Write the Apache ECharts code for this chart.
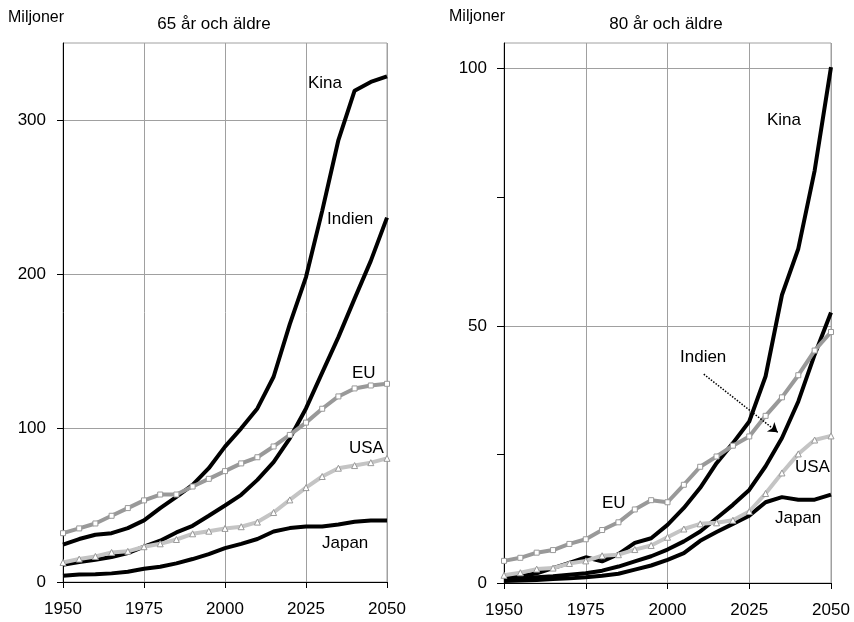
<!DOCTYPE html>
<html>
<head>
<meta charset="utf-8">
<script src="https://cdn.jsdelivr.net/npm/echarts@6/dist/echarts.min.js"></script>
<style>
html,body{margin:0;padding:0;background:#fff;}
#chart{width:854px;height:622px;}
</style>
</head>
<body>
<div id="chart"></div>
<script>
var years = [1950,1955,1960,1965,1970,1975,1980,1985,1990,1995,2000,2005,2010,2015,2020,2025,2030,2035,2040,2045,2050];
var xTickLabels = ['1950','1975','2000','2025','2050'];
var yTicks65 = [0,100,200,300];
var yTicks80 = [0,25,50,75,100];
var yLabels80 = ['0','50','100'];

// 65 år och äldre (miljoner)
var kina65   = [24.2,27.9,30.7,31.7,35,40,48,55.3,63,73.9,87.9,99.8,112.7,133.3,167.5,198,241,287,319,324.7,328.4];
var indien65 = [11.2,13,14.5,16.2,18.8,22.9,26.8,32.2,36.5,43,49.7,56.6,66.3,77.8,93.3,112.7,136,159,184,208.5,236.6];
var eu65     = [31.7,34.8,38,43,48,53,56.8,56.8,62,67,72,77,81,88,95.5,103.5,112.5,120.5,125.7,127.6,128.7];
var usa65    = [12.7,14.9,16.6,19.2,19.9,22.9,24.8,27.6,31.3,33,34.8,35.9,38.9,45.1,53.3,61.3,68.5,73.9,75.6,77.5,80.3];
var japan65  = [4.1,4.8,5,5.6,6.7,8.6,9.9,12.1,14.9,18.1,22,24.8,27.9,32.8,35,36,36,37.4,39.1,40,40];

// 80 år och äldre (miljoner)
var kina80   = [1.0,1.3,1.9,2.9,3.9,5.0,4.2,5.6,7.8,8.7,11.3,14.6,18.5,23.3,27.2,31.4,40.2,56,65,80.2,100.3];
var indien80 = [0.6,0.8,1.1,1.3,1.6,1.9,2.4,3.2,4.2,5.2,6.5,8.1,10.0,12.6,15.2,18.1,22.7,28.2,35.3,44.4,52.6];
var eu80     = [4.3,4.9,5.9,6.4,7.6,8.5,10.3,11.8,14.3,16.1,15.7,19.1,22.6,24.6,26.7,28.5,32.5,36.1,40.4,45.2,48.8];
var usa80    = [1.5,2.0,2.7,2.9,3.8,4.3,5.3,5.5,6.5,7.3,8.9,10.5,11.5,11.7,12.2,13.9,17.4,21.4,25.1,27.8,28.6];
var japan80  = [0.4,0.5,0.6,0.8,0.9,1.1,1.4,1.8,2.6,3.4,4.5,5.8,8.2,9.9,11.5,13.1,15.7,16.7,16.2,16.2,17.2];

// Indien arrow (data coordinates, right panel)
var arrowFrom = [2011.1, 40.6];
var arrowTo = [2033.7, 29.3];

function pairs(arr){ return years.map(function(y,i){ return [y, arr[i]]; }); }

var FONT = 'Liberation Sans, Arial, sans-serif';
var GRIDC = '#a0a0a0';

function xAxisCfg(idx){
  return {
    gridIndex: idx, type: 'value', min: 1950, max: 2050, interval: 25,
    axisLine: {show: true, onZero: false, lineStyle: {color: '#000', width: 1}},
    axisTick: {show: true, length: 6, lineStyle: {color: '#000'}},
    axisLabel: {color: '#000', fontSize: 17, fontFamily: FONT, margin: 19,
      formatter: function(v){ var s = String(v); return xTickLabels.indexOf(s) >= 0 ? s : ''; }},
    splitLine: {show: true, lineStyle: {color: GRIDC, width: 1}}
  };
}

function blackLine(name, data, xi, yi){
  return {name: name, type: 'line', xAxisIndex: xi, yAxisIndex: yi, data: pairs(data),
    showSymbol: false, symbol: 'none', lineStyle: {color: '#000', width: 4}, z: 3};
}
function euLine(data, xi, yi){
  return {name: 'EU', type: 'line', xAxisIndex: xi, yAxisIndex: yi, data: pairs(data),
    symbol: 'rect', symbolSize: 5, showSymbol: true,
    itemStyle: {color: '#fff', borderColor: '#999', borderWidth: 1},
    lineStyle: {color: '#999', width: 4}, z: 4};
}
function usaLine(data, xi, yi){
  return {name: 'USA', type: 'line', xAxisIndex: xi, yAxisIndex: yi, data: pairs(data),
    symbol: 'triangle', symbolSize: 6, showSymbol: true,
    itemStyle: {color: '#fff', borderColor: '#999', borderWidth: 1},
    lineStyle: {color: '#c4c4c4', width: 4}, z: 4};
}

function txt(x, y, s, size, align){
  return {type: 'text', x: x, y: y, z: 100,
    style: {text: s, fill: '#000', font: (size||16) + 'px ' + FONT, textAlign: align || 'left', textVerticalAlign: 'middle'}};
}

var chart = echarts.init(document.getElementById('chart'));
var option = {
  animation: false,
  backgroundColor: '#fff',
  grid: [
    {left: 63, top: 43, width: 324, height: 539, show: true, borderColor: GRIDC, borderWidth: 1, backgroundColor: 'transparent'},
    {left: 504, top: 43, width: 327, height: 540, show: true, borderColor: GRIDC, borderWidth: 1, backgroundColor: 'transparent'}
  ],
  xAxis: [xAxisCfg(0), xAxisCfg(1)],
  yAxis: [
    {gridIndex: 0, type: 'value', min: 0, max: 350, interval: 100,
      axisLine: {show: true, lineStyle: {color: '#000'}},
      axisTick: {show: true, length: 6, customValues: yTicks65, lineStyle: {color: '#000'}},
      axisLabel: {color: '#000', fontSize: 17, fontFamily: FONT, margin: 17, customValues: yTicks65},
      splitLine: {show: true, lineStyle: {color: GRIDC}}},
    {gridIndex: 1, type: 'value', min: 0, max: 105, interval: 25,
      axisLine: {show: true, lineStyle: {color: '#000'}},
      axisTick: {show: true, length: 7, customValues: yTicks80, lineStyle: {color: '#000'}},
      axisLabel: {color: '#000', fontSize: 17, fontFamily: FONT, margin: 17,
        formatter: function(v){ var s = String(v); return yLabels80.indexOf(s) >= 0 ? s : ''; }},
      splitLine: {show: true, lineStyle: {color: [GRIDC, 'rgba(0,0,0,0)']}}}
  ],
  series: [
    blackLine('Kina', kina65, 0, 0),
    blackLine('Indien', indien65, 0, 0),
    blackLine('Japan', japan65, 0, 0),
    euLine(eu65, 0, 0),
    usaLine(usa65, 0, 0),
    blackLine('Kina', kina80, 1, 1),
    (function(){
      var s = blackLine('Indien', indien80, 1, 1);
      s.markLine = {silent: true, symbol: ['none', 'arrow'], symbolSize: 9,
        label: {show: false},
        lineStyle: {color: '#000', type: 'dotted', width: 1.5},
        data: [[{coord: arrowFrom}, {coord: arrowTo}]]};
      return s;
    })(),
    blackLine('Japan', japan80, 1, 1),
    euLine(eu80, 1, 1),
    usaLine(usa80, 1, 1)
  ],
  graphic: [
    txt(8, 18, 'Miljoner', 16),
    txt(214, 24, '65 år och äldre', 17, 'center'),
    txt(449, 17, 'Miljoner', 16),
    txt(666, 24, '80 år och äldre', 17, 'center'),
    txt(308, 83, 'Kina', 17),
    txt(327, 219, 'Indien', 17),
    txt(352, 373, 'EU', 17),
    txt(349, 448, 'USA', 17),
    txt(322, 543, 'Japan', 17),
    txt(767, 120, 'Kina', 17),
    txt(680, 357, 'Indien', 17),
    txt(602, 503, 'EU', 17),
    txt(795, 467, 'USA', 17),
    txt(775, 518, 'Japan', 17)
  ]
};
chart.setOption(option);
</script>
</body>
</html>
